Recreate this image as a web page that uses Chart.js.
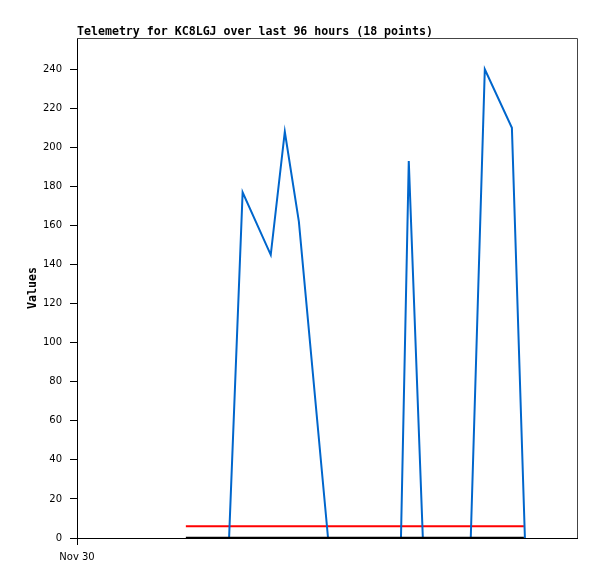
<!DOCTYPE html>
<html>
<head>
<meta charset="utf-8">
<script src="https://cdn.jsdelivr.net/npm/chart.js@4"></script>
<style>
  body { margin: 0; background: #fff; }
  canvas { display: block; }
</style>
</head>
<body>
<canvas id="telemetryChart" width="597" height="579"></canvas>
<script>
// Chart text
const chartTitle = "Telemetry for KC8LGJ over last 96 hours (18 points)";
const yAxisTitle = "Values";
const xTickLabel = "Nov 30";

// x values are hours since Nov 30 00:00
const valueHours = [29.2, 31.8, 37.2, 39.9, 42.6, 48.2, 62.2, 63.7, 66.4, 75.6, 78.3, 83.5, 86.0];
const valueData = [0, 177, 145, 208, 162, 0, 0, 193, 0, 0, 240, 210, 0];

const limitHours = [20.9, 85.8];
const upperLimit = [6, 6];
const lowerLimit = [0, 0];

const monoBold = { family: "'DejaVu Sans Mono', monospace", size: 11.6, weight: "bold" };
const tickFont = { family: "'DejaVu Sans', sans-serif", size: 10 };

function toPoints(xs, ys) {
  return xs.map((x, i) => ({ x: x, y: ys[i] }));
}

// draws the gray top/right frame and the title left-aligned to the plot
const framePlugin = {
  id: "frame",
  afterDraw(chart) {
    const { ctx, chartArea } = chart;
    ctx.save();
    ctx.strokeStyle = "#444444";
    ctx.lineWidth = 1;
    ctx.beginPath();
    ctx.moveTo(chartArea.left, chartArea.top + 0.5);
    ctx.lineTo(chartArea.right + 0.5, chartArea.top + 0.5);
    ctx.lineTo(chartArea.right + 0.5, chartArea.bottom);
    ctx.stroke();
    ctx.fillStyle = "#000";
    ctx.font = "bold 11.6px 'DejaVu Sans Mono', monospace";
    ctx.textBaseline = "alphabetic";
    ctx.textAlign = "left";
    ctx.fillText(chartTitle, chartArea.left, 35);
    ctx.restore();
  },
};

const ctx = document.getElementById("telemetryChart").getContext("2d");
new Chart(ctx, {
  type: "line",
  data: {
    datasets: [
      {
        label: "Values",
        data: toPoints(valueHours, valueData),
        borderColor: "#0066cc",
        borderWidth: 2,
        pointRadius: 0,
        tension: 0,
        order: 1, // above the red line, below the black one
      },
      {
        label: "Upper",
        data: toPoints(limitHours, upperLimit),
        borderColor: "#ff0000",
        borderWidth: 2,
        pointRadius: 0,
        order: 2,
      },
      {
        label: "Lower",
        data: toPoints(limitHours, lowerLimit),
        borderColor: "#000000",
        borderWidth: 2.5,
        pointRadius: 0,
        order: 0,
      },
    ],
  },
  options: {
    responsive: false,
    animation: false,
    layout: { padding: { top: 38, right: 20, left: 0, bottom: 0 } },
    plugins: {
      legend: { display: false },
      tooltip: { enabled: false },
    },
    scales: {
      x: {
        type: "linear",
        min: 0,
        max: 96,
        afterBuildTicks: (scale) => { scale.ticks = [{ value: 0 }]; },
        afterFit: (scale) => { scale.height = 41; },
        ticks: {
          callback: () => xTickLabel,
          color: "#000",
          font: tickFont,
          padding: 6,
          maxRotation: 0,
        },
        grid: { drawOnChartArea: false, tickLength: 7, color: "#000" },
        border: { color: "#000", width: 1 },
      },
      y: {
        min: 0,
        max: 256,
        afterBuildTicks: (scale) => {
          const t = [];
          for (let v = 0; v <= 240; v += 20) t.push({ value: v });
          scale.ticks = t;
        },
        afterFit: (scale) => { scale.width = 77; },
        ticks: { color: "#000", font: tickFont, padding: 8 },
        grid: { drawOnChartArea: false, tickLength: 7, color: "#000" },
        border: { color: "#000", width: 1 },
        title: {
          display: true,
          text: yAxisTitle,
          color: "#000",
          font: monoBold,
          padding: { top: 26, bottom: 0 },
        },
      },
    },
  },
  plugins: [framePlugin],
});
</script>
</body>
</html>
